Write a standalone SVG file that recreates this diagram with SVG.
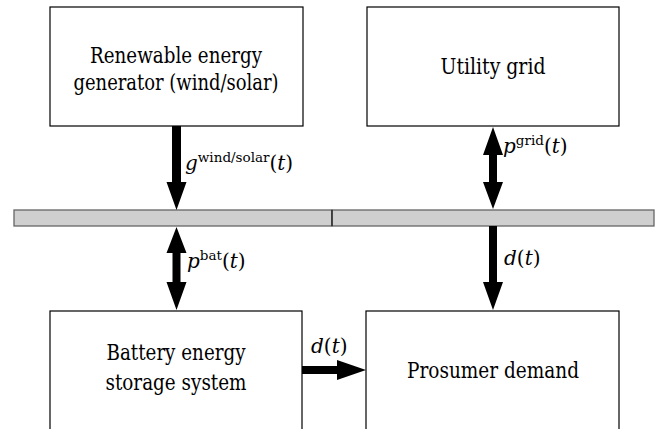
<svg xmlns="http://www.w3.org/2000/svg" width="662" height="429" viewBox="0 0 662 429">
<style>
.box{fill:#fff;stroke:#000;stroke-width:1.2}
.bus{fill:#cfcfcf;stroke:#666;stroke-width:1.3}
text{font-family:'DejaVu Serif','Liberation Serif',serif;font-size:23px;fill:#000}
.lbl{text-anchor:middle}
.math{font-size:20px}
.it{font-style:italic}
.sup{font-size:13.5px}
.arr{fill:#000}
</style>
<rect width="662" height="429" fill="#fff"/>
<g id="bus">
<rect class="bus" x="14" y="210" width="318" height="16"/>
<rect class="bus" x="332" y="210" width="322" height="16"/>
<line x1="332" y1="210" x2="332" y2="226" stroke="#222" stroke-width="1.3"/>
</g>
<g id="renewable">
<rect class="box" x="50" y="7" width="253" height="119"/>
<text class="lbl" x="176" y="63" textLength="172" lengthAdjust="spacingAndGlyphs">Renewable energy</text>
<text class="lbl" x="176" y="89.5" textLength="205" lengthAdjust="spacingAndGlyphs">generator (wind/solar)</text>
</g>
<g id="grid">
<rect class="box" x="367" y="7" width="252" height="119"/>
<text class="lbl" x="493" y="74" textLength="105" lengthAdjust="spacingAndGlyphs">Utility grid</text>
</g>
<g id="battery">
<rect class="box" x="50" y="311" width="252" height="130"/>
<text class="lbl" x="176" y="360" textLength="139" lengthAdjust="spacingAndGlyphs">Battery energy</text>
<text class="lbl" x="176" y="390" textLength="141" lengthAdjust="spacingAndGlyphs">storage system</text>
</g>
<g id="demand">
<rect class="box" x="366" y="311" width="253" height="130"/>
<text class="lbl" x="493" y="378" textLength="172" lengthAdjust="spacingAndGlyphs">Prosumer demand</text>
</g>
<g id="connectors">
<polygon class="arr" points="172,126 181,126 181,182 186.5,182 176.5,210 166.5,182 172,182"/>
<polygon class="arr" points="493,127 503,155 497,155 497,182 503,182 493,209 483,182 489,182 489,155 483,155"/>
<polygon class="arr" points="176.5,227 186.5,253 180.5,253 180.5,282 186.5,282 176.5,310 166.5,282 172.5,282 172.5,253 166.5,253"/>
<polygon class="arr" points="489,226 497,226 497,282 503,282 493,310 483,282 489,282"/>
<polygon class="arr" points="302,366 337,366 337,360 366,370 337,380 337,374 302,374"/>
<text class="math" x="185" y="170"><tspan class="it">g</tspan><tspan class="sup" dy="-8">wind/solar</tspan><tspan dy="8">(</tspan><tspan class="it">t</tspan>)</text>
<text class="math" x="503" y="153"><tspan class="it">p</tspan><tspan class="sup" dy="-8">grid</tspan><tspan dy="8">(</tspan><tspan class="it">t</tspan>)</text>
<text class="math" x="187" y="268"><tspan class="it">p</tspan><tspan class="sup" dy="-8">bat</tspan><tspan dy="8">(</tspan><tspan class="it">t</tspan>)</text>
<text class="math" x="504" y="265"><tspan class="it">d</tspan>(<tspan class="it">t</tspan>)</text>
<text class="math" x="311" y="353"><tspan class="it">d</tspan>(<tspan class="it">t</tspan>)</text>
</g>
</svg>
